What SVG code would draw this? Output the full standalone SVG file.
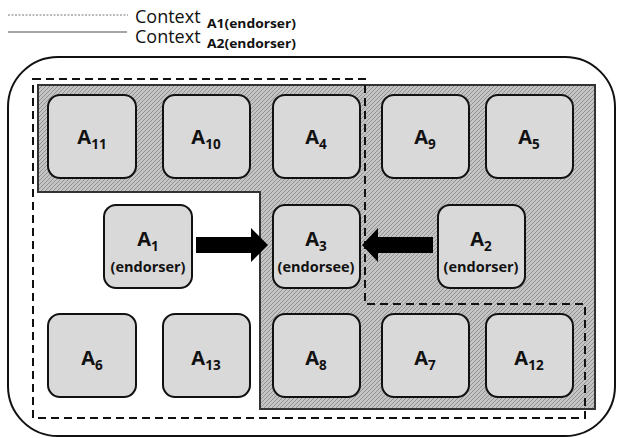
<svg xmlns="http://www.w3.org/2000/svg" width="617" height="438" viewBox="0 0 617 438">
<defs>
<pattern id="hatch" width="4" height="4" patternUnits="userSpaceOnUse">
<rect width="4" height="4" fill="#c4c4c4"/>
<path d="M-1,1 L1,-1 M0,4 L4,0 M3,5 L5,3" stroke="#8c8c8c" stroke-width="0.9"/>
</pattern>
<style>
.node rect{fill:#d9d9d9;stroke:#111;stroke-width:2}
.lbl{font-family:"Open Sans","DejaVu Sans",sans-serif;font-weight:bold;fill:#111;text-anchor:middle}
.big{font-size:20px}
.sub{font-size:13.5px}
.end{font-size:14.5px}
.leg{font-family:"Open Sans","DejaVu Sans",sans-serif;fill:#111}
.legsub{font-size:12px;font-weight:bold}
</style>
</defs>
<rect width="617" height="438" fill="#fff"/>
<!-- legend -->
<line x1="8" y1="15" x2="128" y2="15" stroke="#777" stroke-width="1" stroke-dasharray="2,1.5"/>
<line x1="8" y1="32" x2="127" y2="32" stroke="#888" stroke-width="1.5"/>
<text class="leg" x="135" y="23" font-size="18">Context</text>
<text class="leg legsub" x="207" y="28" textLength="89" lengthAdjust="spacingAndGlyphs">A1(endorser)</text>
<text class="leg" x="135" y="43" font-size="18">Context</text>
<text class="leg legsub" x="207" y="48" textLength="89" lengthAdjust="spacingAndGlyphs">A2(endorser)</text>
<!-- outer boundary -->
<rect x="8" y="57" width="607" height="379" rx="50" ry="50" fill="none" stroke="#111" stroke-width="2"/>
<!-- hatched context -->
<polygon points="38,85 595,85 595,409 260,409 260,192 38,192" fill="url(#hatch)" stroke="#333" stroke-width="2"/>
<!-- dashed context -->
<polygon points="33,79 365,79 365,304 585,304 585,418 33,418" fill="none" stroke="#111" stroke-width="2" stroke-dasharray="8,5"/>
<!-- nodes -->
<g id="A11" class="node"><rect x="48" y="95" width="88" height="83" rx="12"/><text class="lbl big" x="92" y="144">A<tspan class="sub" dy="5">11</tspan></text></g>
<g id="A10" class="node"><rect x="163" y="95" width="87" height="83" rx="12"/><text class="lbl big" x="206" y="144">A<tspan class="sub" dy="5">10</tspan></text></g>
<g id="A4" class="node"><rect x="273" y="95" width="87" height="83" rx="12"/><text class="lbl big" x="316" y="144">A<tspan class="sub" dy="5">4</tspan></text></g>
<g id="A9" class="node"><rect x="382" y="95" width="87" height="83" rx="12"/><text class="lbl big" x="425" y="144">A<tspan class="sub" dy="5">9</tspan></text></g>
<g id="A5" class="node"><rect x="486" y="95" width="87" height="83" rx="12"/><text class="lbl big" x="529" y="144">A<tspan class="sub" dy="5">5</tspan></text></g>
<g id="A1" class="node"><rect x="104" y="205" width="88" height="83" rx="12"/><text class="lbl big" x="148" y="246">A<tspan class="sub" dy="5">1</tspan></text><text class="lbl end" x="148" y="272">(endorser)</text></g>
<g id="A3" class="node"><rect x="273" y="205" width="87" height="83" rx="12"/><text class="lbl big" x="316" y="246">A<tspan class="sub" dy="5">3</tspan></text><text class="lbl end" x="316" y="272">(endorsee)</text></g>
<g id="A2" class="node"><rect x="438" y="205" width="87" height="83" rx="12"/><text class="lbl big" x="481" y="246">A<tspan class="sub" dy="5">2</tspan></text><text class="lbl end" x="481" y="272">(endorser)</text></g>
<g id="A6" class="node"><rect x="48" y="314" width="88" height="83" rx="12"/><text class="lbl big" x="92" y="365">A<tspan class="sub" dy="5">6</tspan></text></g>
<g id="A13" class="node"><rect x="163" y="314" width="87" height="83" rx="12"/><text class="lbl big" x="206" y="365">A<tspan class="sub" dy="5">13</tspan></text></g>
<g id="A8" class="node"><rect x="273" y="314" width="87" height="83" rx="12"/><text class="lbl big" x="316" y="365">A<tspan class="sub" dy="5">8</tspan></text></g>
<g id="A7" class="node"><rect x="382" y="314" width="87" height="83" rx="12"/><text class="lbl big" x="425" y="365">A<tspan class="sub" dy="5">7</tspan></text></g>
<g id="A12" class="node"><rect x="486" y="314" width="87" height="83" rx="12"/><text class="lbl big" x="529" y="365">A<tspan class="sub" dy="5">12</tspan></text></g>
<!-- connectors -->
<g id="connectors" fill="#000">
<polygon points="196,237 251,237 251,228 268,245 251,262 251,253 196,253"/>
<polygon points="433,237 378,237 378,228 362,245 378,262 378,253 433,253"/>
</g>
</svg>
